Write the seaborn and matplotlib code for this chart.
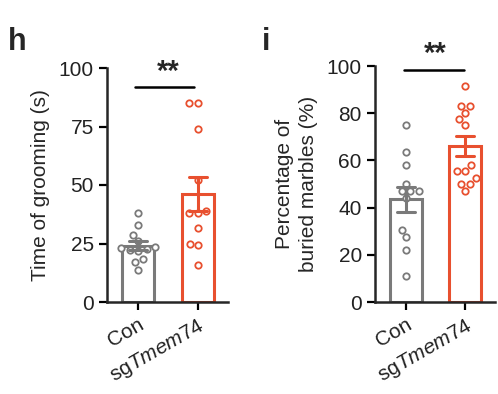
import pandas as pd
import seaborn as sns
import matplotlib.pyplot as plt

# Values
groups = ['Con', 'sgTmem74']
tick_labels = ['Con', 'sg$\\mathit{Tmem74}$']
colors = ['#7a7a7a', '#e8502f']

# panel h: time of grooming (s)
groom_con = [38, 33, 28.8, 26, 23.4, 23, 22.6, 22.3, 22, 18.3, 17, 13.8]
groom_sg = [85, 85, 74, 52, 39, 38, 38, 31.5, 25, 24.5, 16]

# panel i: percentage of buried marbles (%)
marble_con = [75, 63.5, 58, 50, 47, 47, 47, 44, 30.5, 27.5, 22, 11]
marble_sg = [91.5, 83, 83, 80, 77.5, 75, 58, 55.5, 55.5, 52.5, 50, 50, 47]

sns.set_style('ticks')
plt.rcParams['font.family'] = ['Liberation Sans', 'DejaVu Sans']
plt.rcParams['mathtext.fontset'] = 'custom'
plt.rcParams['mathtext.it'] = 'Liberation Sans:italic'
plt.rcParams['mathtext.rm'] = 'Liberation Sans'

FS = 15


def make_df(con, sg):
    return pd.DataFrame({'group': ['Con'] * len(con) + ['sgTmem74'] * len(sg),
                         'value': con + sg})


def draw_panel(ax, df, yticks, ylabel):
    for g, c in zip(groups, colors):
        sub = df[df['group'] == g]
        sns.barplot(data=sub, x='group', y='value', order=groups, ax=ax,
                    fill=False, color=c, linewidth=2.2, width=0.54,
                    errorbar='se', capsize=0.3,
                    err_kws={'color': c, 'linewidth': 2.2, 'zorder': 4})
        n0 = len(ax.collections)
        sns.swarmplot(data=sub, x='group', y='value', order=groups, ax=ax,
                      color=c, size=4.6, linewidth=1.3, edgecolor=c, zorder=3)
        for coll in ax.collections[n0:]:
            coll.set_facecolor('white')
            coll.set_edgecolor(c)
    ax.set_ylim(0, 100)
    ax.set_xlim(-0.52, 1.5)
    ax.set_yticks(yticks)
    ax.set_xlabel('')
    ax.set_ylabel(ylabel, fontsize=FS, labelpad=6, linespacing=1.35)
    ax.set_xticks([0, 1])
    ax.set_xticklabels(tick_labels, rotation=30, ha='right',
                       rotation_mode='anchor', fontsize=FS)
    ax.tick_params(axis='both', width=1.6, length=6, labelsize=FS,
                   color='black', labelcolor='#222222')
    for s in ['left', 'bottom']:
        ax.spines[s].set_linewidth(1.8)
    sns.despine(ax=ax)


fig = plt.figure(figsize=(4.98, 3.94), dpi=100)
ax1 = fig.add_axes([107 / 498, 92 / 394, 121 / 498, 234 / 394])
ax2 = fig.add_axes([375 / 498, 92 / 394, 120 / 498, 236 / 394])

draw_panel(ax1, make_df(groom_con, groom_sg), [0, 25, 50, 75, 100],
           'Time of grooming (s)')
draw_panel(ax2, make_df(marble_con, marble_sg), [0, 20, 40, 60, 80, 100],
           'Percentage of\nburied marbles (%)')

# significance bars
ax1.plot([-0.05, 0.93], [92, 92], color='black', lw=1.8, clip_on=False)
ax1.text(0.5, 92.5, '**', ha='center', va='bottom', fontsize=21,
         fontweight='bold')
ax2.plot([-0.03, 0.97], [98.5, 98.5], color='black', lw=1.8, clip_on=False)
ax2.text(0.5, 99, '**', ha='center', va='bottom', fontsize=21,
         fontweight='bold', clip_on=False)

fig.text(8 / 498, 1 - 50 / 394, 'h', fontsize=22, fontweight='bold')
fig.text(262 / 498, 1 - 50 / 394, 'i', fontsize=22, fontweight='bold')

fig.savefig('out.png', dpi=100)
